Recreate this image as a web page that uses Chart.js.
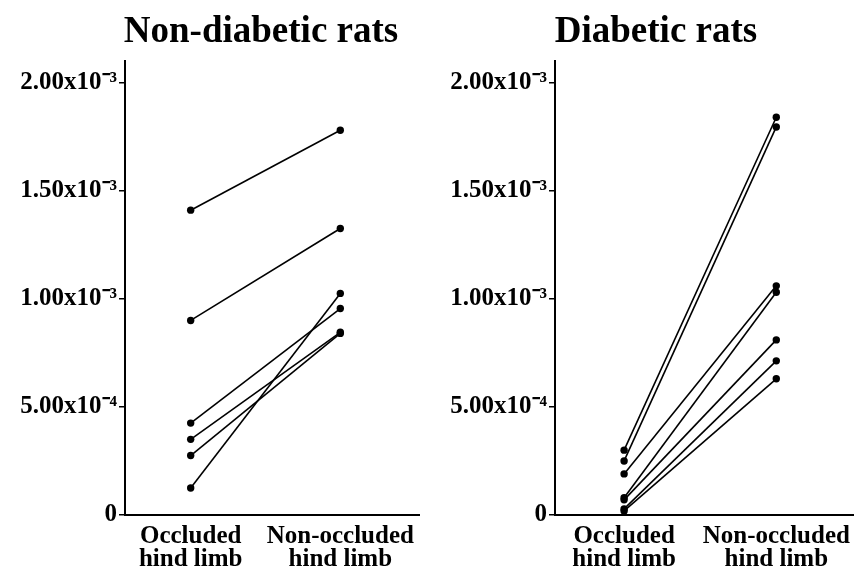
<!DOCTYPE html>
<html>
<head>
<meta charset="utf-8">
<script src="https://cdn.jsdelivr.net/npm/chart.js@4/dist/chart.umd.min.js"></script>
<style>
  html, body { margin: 0; padding: 0; background: #fff; }
  #wrap { position: relative; width: 857px; height: 568px; overflow: hidden; }
  .panel { position: absolute; top: 0; }
</style>
</head>
<body>
<div id="wrap">
  <div class="panel" style="left:0px"><canvas id="c1" width="430" height="568"></canvas></div>
  <div class="panel" style="left:430px"><canvas id="c2" width="427" height="568"></canvas></div>
</div>
<script>
// ---- data ----
const panelTitles = ["Non-diabetic rats", "Diabetic rats"];
const categoryLabels = [["Occluded", "hind limb"], ["Non-occluded", "hind limb"]];
const yTickValues = [0, 0.0005, 0.001, 0.0015, 0.002];
const yTickLabels = ["0", "5.00x10\u207B\u2074", "1.00x10\u207B\u00B3", "1.50x10\u207B\u00B3", "2.00x10\u207B\u00B3"];

const nonDiabeticOccluded    = [1.41e-3, 0.90e-3, 0.125e-3, 0.425e-3, 0.35e-3, 0.275e-3];
const nonDiabeticNonOccluded = [1.78e-3, 1.325e-3, 1.025e-3, 0.955e-3, 0.845e-3, 0.84e-3];

const diabeticOccluded    = [0.30e-3, 0.25e-3, 0.19e-3, 0.08e-3, 0.07e-3, 0.028e-3, 0.019e-3];
const diabeticNonOccluded = [1.84e-3, 1.795e-3, 1.06e-3, 1.03e-3, 0.81e-3, 0.713e-3, 0.63e-3];

// ---- helpers ----
const FONT = "'Liberation Serif', 'Times New Roman', serif";

function pairDatasets(occ, non) {
  return occ.map((v, i) => ({
    data: [{x: 0, y: v}, {x: 1, y: non[i]}],
    showLine: true,
    borderColor: '#000',
    borderWidth: 1.6,
    backgroundColor: '#000',
    pointRadius: 3.7,
    pointBorderWidth: 0,
    pointBackgroundColor: '#000',
    tension: 0
  }));
}

const titlePlugin = {
  id: 'panelTitle',
  afterDraw(chart, args, opts) {
    const ctx = chart.ctx;
    ctx.save();
    ctx.font = 'bold 37px ' + FONT;
    ctx.fillStyle = '#000';
    ctx.textAlign = 'center';
    ctx.textBaseline = 'alphabetic';
    ctx.fillText(opts.text, opts.x, opts.y);
    ctx.restore();
  }
};

function makeChart(id, title, titleX, occ, non, xMin, xMax, padRight) {
  return new Chart(document.getElementById(id), {
    type: 'scatter',
    data: { datasets: pairDatasets(occ, non) },
    plugins: [titlePlugin],
    options: {
      responsive: false,
      animation: false,
      devicePixelRatio: 1,
      layout: { padding: { top: 61, right: padRight, left: 0, bottom: 0 } },
      plugins: {
        legend: { display: false },
        tooltip: { enabled: false },
        panelTitle: { text: title, x: titleX, y: 42 }
      },
      scales: {
        x: {
          type: 'linear',
          min: xMin,
          max: xMax,
          afterBuildTicks: (s) => { s.ticks = [{value: 0}, {value: 1}]; },
          afterFit: (s) => { s.height = 53; },
          grid: { display: false },
          border: { display: true, color: '#000', width: 2 },
          ticks: {
            autoSkip: false,
            maxRotation: 0,
            padding: 2,
            color: '#000',
            font: { family: FONT, size: 25, weight: 'bold', lineHeight: 0.93 },
            callback: (v) => categoryLabels[v]
          }
        },
        y: {
          type: 'linear',
          min: 0,
          max: 0.0021,
          afterBuildTicks: (s) => { s.ticks = yTickValues.map(v => ({value: v})); },
          afterFit: (s) => { s.width = 125; },
          grid: { display: true, drawOnChartArea: false, drawTicks: true, tickLength: 6, color: '#000', lineWidth: 1.5 },
          border: { display: true, color: '#000', width: 2 },
          ticks: {
            padding: 2,
            color: '#000',
            font: { family: FONT, size: 25, weight: 'bold' },
            callback: (v, i) => yTickLabels[i]
          }
        }
      }
    }
  });
}

makeChart('c1', panelTitles[0], 261, nonDiabeticOccluded, nonDiabeticNonOccluded, -0.439, 1.526, 11);
makeChart('c2', panelTitles[1], 226, diabeticOccluded, diabeticNonOccluded, -0.454, 1.504, 0);
</script>
</body>
</html>
